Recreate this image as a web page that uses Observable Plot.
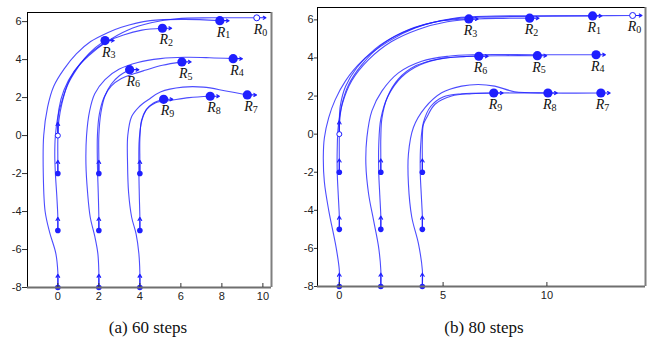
<!DOCTYPE html>
<html><head><meta charset="utf-8">
<script src="https://cdn.jsdelivr.net/npm/d3@7"></script>
<script src="https://cdn.jsdelivr.net/npm/@observablehq/plot@0.6"></script>
<style>
body{margin:0;background:#fff;}
#wrap{position:relative;width:649px;height:342px;overflow:hidden;background:#fff;}
.panel{position:absolute;top:0;}
.cap{position:absolute;top:318px;font-family:"Liberation Serif","Times New Roman",serif;font-size:17px;line-height:20px;text-align:center;width:200px;color:#111;}
</style></head><body>
<div id="wrap">
<div id="pa" class="panel" style="left:0"></div>
<div id="pb" class="panel" style="left:300px"></div>
<div class="cap" style="left:48px">(a) 60 steps</div>
<div class="cap" style="left:384px">(b) 80 steps</div>
</div>
<script>
const robots = ["R0","R1","R2","R3","R4","R5","R6","R7","R8","R9"];
const captions = ["(a) 60 steps", "(b) 80 steps"];
const yTicks = [-8,-6,-4,-2,0,2,4,6];
const xTicksA = [0,2,4,6,8,10];
const xTicksB = [0,5,10];

// (a) 60 steps — trajectories [x, y]
const a_R0 = [[0,0],[0,0.7],[0.05,1.4],[0.3,2.4],[0.8,3.4],[1.5,4.2],[2.4,4.95],[3.4,5.55],[4.6,5.95],[5.8,6.15],[7.5,6.2],[9.7,6.2]];
const a_R1 = [[0,-8],[0,-7.2],[-0.1,-6.2],[-0.4,-5.1],[-0.62,-4],[-0.71,-2],[-0.69,0],[-0.5,1.5],[-0.2,2.6],[0.3,3.5],[0.9,4.3],[1.6,4.95],[2.4,5.4],[3.1,5.7],[4.5,6.05],[6.2,6.12],[7.9,6.05]];
const a_R2 = [[0,-5],[0,-4.3],[-0.05,-3.2],[-0.12,-2],[-0.15,-1],[-0.12,0],[0,1.0],[0.25,2.0],[0.6,3.0],[1.1,3.8],[1.7,4.45],[2.4,4.95],[3.2,5.3],[4.1,5.55],[5.1,5.65]];
const a_R3 = [[0,-2],[0,-1.3],[0,-0.2],[0.05,0.8],[0.2,1.7],[0.45,2.6],[0.8,3.3],[1.3,4.05],[1.8,4.6],[2.3,5.0]];
const a_R4 = [[2,-8],[2,-7.2],[1.95,-6.2],[1.8,-5.3],[1.58,-4.3],[1.45,-3],[1.37,-1.5],[1.4,0],[1.55,1.3],[1.8,2.2],[2.3,2.95],[3.0,3.5],[3.9,3.85],[5.0,4.05],[6.2,4.12],[7.4,4.1],[8.55,4.05]];
const a_R5 = [[2,-5],[2,-4.3],[1.97,-3],[1.93,-1.5],[1.93,0],[2.02,1.1],[2.25,2.0],[2.6,2.6],[3.1,3.0],[3.7,3.25],[4.3,3.45],[5.1,3.7],[6.05,3.88]];
const a_R6 = [[2,-2],[2,-1.3],[2,0],[2.1,1.2],[2.3,2.1],[2.6,2.7],[3.0,3.15],[3.5,3.47]];
const a_R7 = [[4,-8],[4,-7.2],[3.95,-6.2],[3.82,-5.2],[3.6,-4.3],[3.45,-3],[3.4,-1.5],[3.41,0],[3.6,1.0],[3.95,1.5],[4.43,1.9],[5.0,2.3],[6.1,2.55],[7.1,2.55],[8.2,2.35],[9.24,2.14]];
const a_R8 = [[4,-5],[4,-4.3],[3.97,-3],[3.95,-1.5],[3.97,-0.2],[4.1,0.8],[4.35,1.4],[4.75,1.72],[5.5,1.85],[6.4,2.0],[7.43,2.07]];
const a_R9 = [[4,-2],[4,-1.3],[4,-0.2],[4.08,0.8],[4.3,1.35],[4.65,1.7],[5.16,1.91]];

// (b) 80 steps
const b_R0 = [[0,0],[0,0.7],[0.05,1.5],[0.3,2.5],[0.85,3.5],[1.7,4.45],[2.8,5.2],[4.1,5.75],[5.6,6.1],[7.5,6.2],[10,6.22],[12.2,6.22],[14.13,6.23]];
const b_R1 = [[0,-8],[0,-7.13],[-0.16,-5.91],[-0.51,-4.0],[-0.72,-2.5],[-0.77,-1.2],[-0.72,-0.2],[-0.51,0.87],[-0.2,1.8],[0.3,2.8],[1.09,3.83],[2.37,4.87],[3.65,5.57],[4.93,5.95],[6.2,6.12],[9.0,6.18],[12.2,6.21]];
const b_R2 = [[0,-5],[0,-4.3],[-0.05,-3.2],[-0.1,-2],[-0.1,-0.8],[-0.05,0.4],[0.15,1.6],[0.6,2.8],[1.4,3.9],[2.5,4.85],[3.8,5.5],[5.2,5.9],[6.6,6.05],[7.9,6.08],[9.17,6.09]];
const b_R3 = [[0,-2],[0,-1.3],[0,-0.2],[0.02,0.7],[0.13,1.57],[0.45,2.6],[1.09,3.65],[2.05,4.7],[3.33,5.48],[4.93,5.95],[6.24,6.05]];
const b_R4 = [[2,-8],[2,-7.13],[1.89,-5.91],[1.65,-4.52],[1.41,-3.13],[1.28,-1.57],[1.33,-0.17],[1.57,1.22],[2.05,2.26],[2.85,3.22],[3.97,3.83],[5.25,4.09],[6.5,4.17],[9.5,4.17],[12.37,4.17]];
const b_R5 = [[2,-5],[2,-4.3],[1.95,-3.2],[1.9,-2],[1.9,-0.6],[2.0,0.8],[2.35,2.0],[3.0,3.0],[3.9,3.65],[5.0,3.98],[6.5,4.1],[8,4.12],[9.54,4.12]];
const b_R6 = [[2,-2],[2,-1.3],[2,-0.2],[2.05,0.8],[2.3,1.9],[2.85,2.9],[3.7,3.6],[4.8,3.95],[6.0,4.07],[6.72,4.09]];
const b_R7 = [[4,-8],[4,-7.13],[3.81,-5.74],[3.49,-4.35],[3.33,-2.61],[3.33,-1.04],[3.57,0.35],[4.13,1.39],[4.93,2.17],[5.89,2.52],[6.69,2.61],[7.49,2.52],[8.45,2.23],[10.05,2.16],[12.6,2.16]];
const b_R8 = [[4,-5],[4,-4.3],[3.95,-3.2],[3.9,-2],[3.92,-0.6],[4.05,0.6],[4.4,1.45],[5.0,1.95],[5.9,2.12],[7.5,2.16],[10.05,2.16]];
const b_R9 = [[4,-2],[4,-1.3],[4,-0.3],[4.05,0.5],[4.21,0.87],[4.61,1.57],[5.41,2.0],[6.37,2.12],[7.44,2.16]];

const pathsA = [a_R0,a_R1,a_R2,a_R3,a_R4,a_R5,a_R6,a_R7,a_R8,a_R9];
const pathsB = [b_R0,b_R1,b_R2,b_R3,b_R4,b_R5,b_R6,b_R7,b_R8,b_R9];

const BLUE = "#1f1fff";
const HEAD = 0.7;      // start-heading arrow length (data units)
const HEAD_END = 0.45; // final-heading arrow length

function panel({paths, xDomain, yDomain, xTicks, width, height, mt, mr, mb, ml, tickSize, labelDx}) {
  const rows = paths.flatMap((p, i) => p.map(([x, y]) => ({robot: robots[i], x, y})));
  const starts = paths.map((p, i) => ({i, x: p[0][0], y: p[0][1]}));
  const ends = paths.map((p, i) => ({i, digit: robots[i].slice(1), x: p[p.length-1][0], y: p[p.length-1][1]}));
  const plotH = height - mt - mb;
  return Plot.plot({
    width, height, marginTop: mt, marginRight: mr, marginBottom: mb, marginLeft: ml,
    x: {domain: xDomain, label: null},
    y: {domain: yDomain, label: null},
    style: {fontFamily: "'Liberation Sans', Arial, sans-serif", fontSize: "11px", color: "#222", background: "#fff", overflow: "visible"},
    marks: [
      Plot.line(rows, {x: "x", y: "y", z: "robot", curve: "catmull-rom", stroke: BLUE, strokeWidth: 1.1, strokeOpacity: 0.8}),
      Plot.arrow(starts, {x1: "x", y1: "y", x2: "x", y2: d => d.y + HEAD, stroke: BLUE, strokeWidth: 1.1, headLength: 5}),
      Plot.arrow(ends, {x1: "x", y1: "y", x2: d => d.x + HEAD_END, y2: "y", stroke: BLUE, strokeWidth: 1.1, headLength: 5}),
      Plot.dot(starts.filter(d => d.i > 0), {x: "x", y: "y", r: 2.8, fill: BLUE}),
      Plot.dot(starts.filter(d => d.i === 0), {x: "x", y: "y", r: 2.5, fill: "white", stroke: BLUE, strokeWidth: 1}),
      Plot.dot(ends.filter(d => d.i > 0), {x: "x", y: "y", r: 4.6, fill: BLUE}),
      Plot.dot(ends.filter(d => d.i === 0), {x: "x", y: "y", r: 3, fill: "white", stroke: BLUE, strokeWidth: 1}),
      Plot.text(ends, {x: "x", y: "y", text: () => "R", textAnchor: "start", dx: labelDx, dy: 11.5, fontSize: 14, fontStyle: "italic", fontFamily: "'Liberation Serif', serif", fill: "#111"}),
      Plot.text(ends, {x: "x", y: "y", text: "digit", textAnchor: "start", dx: labelDx + 8.5, dy: 14.5, fontSize: 10, fontFamily: "'Liberation Serif', serif", fill: "#111"}),
      Plot.ruleY([yDomain[1]], {stroke: "#000", strokeWidth: 1}),
      Plot.ruleX([xDomain[0]], {stroke: "#000", strokeWidth: 1}),
      Plot.ruleY([yDomain[0]], {stroke: "#6f6f6f", strokeWidth: 2}),
      Plot.ruleX([xDomain[1]], {stroke: "#7f7f7f", strokeWidth: 2}),
      Plot.axisY({ticks: yTicks, tickSize, tickPadding: 1, tickFormat: d => String(d), stroke: "#333", label: null}),
      Plot.axisX({ticks: xTicks, tickSize: 0, tickPadding: 5, tickFormat: d => String(d), label: null}),
      Plot.tickX(xTicks, {x: d => d, stroke: "#333", insetTop: plotH - 4})
    ]
  });
}

document.getElementById("pa").appendChild(panel({
  paths: pathsA, xDomain: [-1.48, 10.42], yDomain: [-8, 6.48], xTicks: xTicksA,
  width: 300, height: 310, mt: 12, mr: 29, mb: 23, ml: 27, tickSize: 5, labelDx: -3
}));
document.getElementById("pb").appendChild(panel({
  paths: pathsB, xDomain: [-1.05, 14.75], yDomain: [-8, 6.65], xTicks: xTicksB,
  width: 349, height: 310, mt: 7, mr: 4, mb: 24, ml: 17, tickSize: 3, labelDx: -5
}));
</script>
</body></html>
